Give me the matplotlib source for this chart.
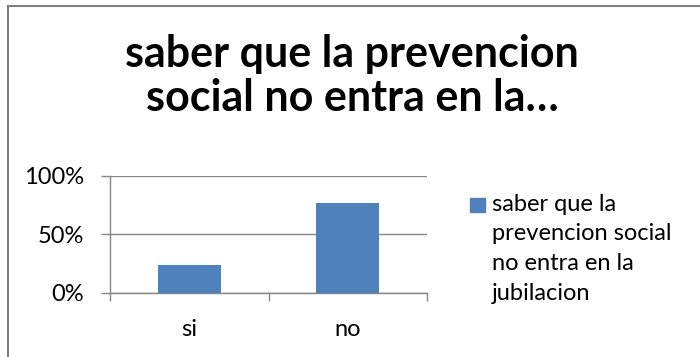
import matplotlib
matplotlib.use('Agg')
import matplotlib.pyplot as plt
from matplotlib.lines import Line2D
from matplotlib.patches import Rectangle

plt.rcParams['font.family'] = ['Lato', 'DejaVu Sans']

categories = ['si', 'no']
values = [23.5, 76.5]
series_name = 'saber que la\nprevencion social\nno entra en la\njubilacion'
title = 'saber que la prevencion\nsocial no entra en la…'
yticks = [0, 50, 100]
ytick_labels = ['0%', '50%', '100%']

bar_color = '#4F81BD'
grid_color = '#868686'

fig = plt.figure(figsize=(7, 3.57), dpi=100)
ax = fig.add_axes([110/700, 1 - 292.7/357, 317/700, 117/357])

x = range(len(categories))
ax.bar(x, values, width=0.4, color=bar_color, zorder=3)

ax.set_xlim(-0.5, 1.5)
ax.set_ylim(0, 100)
ax.set_yticks(yticks)
ax.set_yticklabels(ytick_labels, fontsize=17)
ax.set_xticks(list(x))
ax.set_xticklabels(categories, fontsize=17)
ax.tick_params(axis='x', length=0, pad=19)
ax.tick_params(axis='y', length=6.5, color=grid_color, width=1, pad=12)

# category boundary ticks on x axis
ax.set_xticks([-0.5, 0.5, 1.5], minor=True)
ax.tick_params(axis='x', which='minor', length=5.5, color=grid_color, width=1)

ax.grid(axis='y', color=grid_color, linewidth=1, zorder=0)
for side in ['top', 'right']:
    ax.spines[side].set_visible(False)
for side in ['left', 'bottom']:
    ax.spines[side].set_color(grid_color)
    ax.spines[side].set_linewidth(1)

fig.text(352/700, 1 - 76/357, title, ha='center', va='center',
         fontsize=31, fontweight='bold', linespacing=1.1)

# legend
fig.patches.append(Rectangle((470/700, 1 - 212/357), 15/700, 14/357,
                             transform=fig.transFigure, color=bar_color))
fig.text(492/700, 1 - 194/357, series_name, ha='left', va='top',
         fontsize=17, linespacing=1.5)

# chart frame (cropped)
fig.add_artist(Line2D([7.5/700, 1], [1 - 5.5/357, 1 - 5.5/357],
                      transform=fig.transFigure, color='#7f7f7f', linewidth=1.5))
fig.add_artist(Line2D([7.5/700, 7.5/700], [0, 1 - 5.5/357],
                      transform=fig.transFigure, color='#7f7f7f', linewidth=1.5))

fig.savefig('out.png', dpi=100)
